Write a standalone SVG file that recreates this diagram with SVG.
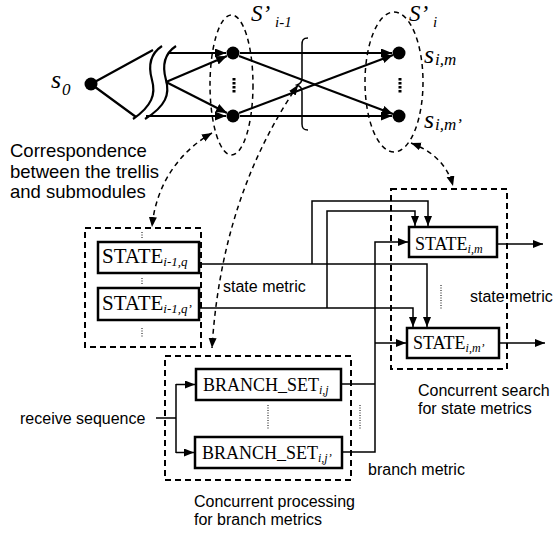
<svg xmlns="http://www.w3.org/2000/svg" width="560" height="535" viewBox="0 0 560 535">
<style>
.ln{fill:none;stroke:#000;stroke-width:1.5}
.tl{fill:none;stroke:#000;stroke-width:2.2}
.ds{fill:none;stroke:#000;stroke-width:1.5;stroke-dasharray:5 4}
.dbox{fill:none;stroke:#000;stroke-width:2;stroke-dasharray:6 4}
.box{fill:#fff;stroke:#000;stroke-width:2.5}
.dot{fill:#000}
.dotv{fill:none;stroke:#000;stroke-width:1;stroke-dasharray:1 1.5}
.dotb{fill:none;stroke:#000;stroke-width:3;stroke-dasharray:2.5 1.5}
.sans{font-family:"Liberation Sans",Arial,sans-serif;font-size:16px;fill:#000}
.big{font-size:18.5px}
.ser{font-family:"Liberation Serif","Times New Roman",serif;fill:#000}
.it{font-style:italic}
</style>
<defs>
<marker id="ah" markerUnits="userSpaceOnUse" markerWidth="12" markerHeight="10" refX="11" refY="4.5" orient="auto-start-reverse">
<path d="M0,0 L11,4.5 L0,9 z" fill="#000"/>
</marker>
<marker id="ahs" markerUnits="userSpaceOnUse" markerWidth="11" markerHeight="9" refX="10" refY="4" orient="auto-start-reverse">
<path d="M0,0 L10,4 L0,8 z" fill="#000"/>
</marker>
</defs>
<rect width="560" height="535" fill="#fff"/>

<!-- Trellis -->
<g id="trellis">
<g id="s0">
<circle class="dot" cx="91" cy="84" r="6.5"/>
<text class="ser it" x="51" y="88" font-size="26">s</text>
<text class="ser it" x="62" y="95" font-size="17">0</text>
</g>
<g id="break">
<path class="tl" d="M91,84 L153,50 M91,84 L136,117"/>
<path class="tl" stroke-width="2.5" d="M162,46 C150,54 148,66 152,80 C156,94 152,106 133,119"/>
<path class="tl" stroke-width="2.5" d="M176,46 C164,54 162,66 166,80 C170,94 166,106 145,119"/>
</g>
<g id="S_i-1">
<ellipse class="ds" cx="231.5" cy="85" rx="21.5" ry="70"/>
<circle class="dot" cx="233" cy="53" r="6.5"/>
<circle class="dot" cx="233" cy="116" r="6.5"/>
<line class="dotb" x1="234" y1="78" x2="234" y2="94"/>
<text class="ser it" x="251" y="21" font-size="23">S’</text>
<text class="ser it" x="275" y="27" font-size="15">i-1</text>
</g>
<g id="S_i">
<ellipse class="ds" cx="394" cy="82" rx="29" ry="70"/>
<circle class="dot" cx="399" cy="53" r="6.5"/>
<circle class="dot" cx="399" cy="116" r="6.5"/>
<line class="dotb" x1="400" y1="78" x2="400" y2="94"/>
<text class="ser it" x="409" y="21" font-size="23">S’</text>
<text class="ser it" x="433" y="27" font-size="15">i</text>
<text class="ser it" x="424" y="63" font-size="26">s</text>
<text class="ser it" x="435" y="65" font-size="17">i,m</text>
<text class="ser it" x="424" y="128" font-size="26">s</text>
<text class="ser it" x="435" y="130" font-size="17">i,m’</text>
</g>
<path id="brace" class="ln" d="M308,38 C303,38 302,40 302,45 L302,78 C302,82 300,84 297,85 C300,86 302,88 302,92 L302,124 C302,128 303,130 308,130"/>
</g>

<!-- Submodule groups -->
<g id="prev-states">
<rect class="dbox" x="85" y="228" width="116" height="119"/>
<line class="dotv" x1="142" y1="232" x2="142" y2="239"/>
<line class="dotv" x1="142" y1="278" x2="142" y2="285"/>
<line class="dotv" x1="142" y1="328" x2="142" y2="338"/>
</g>
<g id="STATE_i-1_q">
<rect class="box" x="98" y="242" width="101" height="31"/>
<text class="ser" x="102" y="263" font-size="21">STATE<tspan class="it" font-size="13" dy="3">i-1,q</tspan></text>
</g>
<g id="STATE_i-1_q2">
<rect class="box" x="98" y="288" width="101" height="32"/>
<text class="ser" x="102" y="310" font-size="21">STATE<tspan class="it" font-size="13" dy="3">i-1,q’</tspan></text>
</g>

<g id="cur-states">
<rect class="dbox" x="391" y="189" width="116" height="180"/>
<line class="dotv" x1="441" y1="285" x2="441" y2="310"/>
</g>
<g id="STATE_i_m">
<rect class="box" x="409" y="227" width="88" height="30"/>
<text class="ser" x="415" y="250" font-size="18">STATE<tspan class="it" font-size="12" dy="3">i,m</tspan></text>
</g>
<g id="STATE_i_m2">
<rect class="box" x="407" y="328" width="92" height="30"/>
<text class="ser" x="413" y="349" font-size="18">STATE<tspan class="it" font-size="12" dy="3">i,m’</tspan></text>
</g>

<g id="branch-sets">
<rect class="dbox" x="165" y="356" width="186" height="124"/>
<line class="dotv" x1="268" y1="405" x2="268" y2="430"/>
</g>
<g id="BRANCH_SET_i_j">
<rect class="box" x="196" y="369" width="145" height="31"/>
<text class="ser" x="203" y="391" font-size="18">BRANCH_SET<tspan class="it" font-size="12" dy="3">i,j</tspan></text>
</g>
<g id="BRANCH_SET_i_j2">
<rect class="box" x="195" y="437" width="147" height="31"/>
<text class="ser" x="202" y="459" font-size="18">BRANCH_SET<tspan class="it" font-size="12" dy="3">i,j’</tspan></text>
</g>

<!-- Connectors -->
<g id="connectors">
<line class="tl" x1="169" y1="53" x2="226" y2="53" marker-end="url(#ah)"/>
<line class="tl" x1="166" y1="82" x2="227" y2="56" marker-end="url(#ah)"/>
<line class="tl" x1="166" y1="82" x2="227" y2="113" marker-end="url(#ah)"/>
<line class="tl" x1="146" y1="116" x2="226" y2="116" marker-end="url(#ah)"/>
<line class="tl" x1="240" y1="53" x2="392" y2="53" marker-end="url(#ah)"/>
<line class="tl" x1="240" y1="116" x2="392" y2="116" marker-end="url(#ah)"/>
<line class="tl" x1="239" y1="56" x2="393" y2="114" marker-end="url(#ah)"/>
<line class="tl" x1="239" y1="113" x2="393" y2="55" marker-end="url(#ah)"/>
<path class="ds" d="M212,133 C182,150 156,182 152,227" marker-start="url(#ahs)" marker-end="url(#ahs)"/>
<path class="ds" d="M298,85 C262,138 220,220 212,348" marker-start="url(#ahs)" marker-end="url(#ahs)"/>
<path class="ds" d="M411,143 C430,150 447,163 453,186" marker-start="url(#ahs)" marker-end="url(#ahs)"/>
<path class="ln" d="M199,264 H427 V327" marker-end="url(#ahs)"/>
<path class="ln" d="M312,264 V201 H428 V226" marker-end="url(#ahs)"/>
<path class="ln" d="M199,308 H413 V327" marker-end="url(#ahs)"/>
<path class="ln" d="M327,308 V211 H415 V226" marker-end="url(#ahs)"/>
<path class="ln" d="M341,384 H375"/>
<path class="ln" d="M342,452 H375 V242 H408" marker-end="url(#ahs)"/>
<path class="ln" d="M375,343 H406" marker-end="url(#ahs)"/>
<line class="dotv" x1="360" y1="405" x2="360" y2="430"/>
<path class="ln" d="M497,244 H543" marker-end="url(#ahs)"/>
<path class="ln" d="M499,343 H545" marker-end="url(#ahs)"/>
<path class="ln" d="M156,418 H176 M176,384 V453"/>
<path class="ln" d="M176,384.5 H195" marker-end="url(#ahs)"/>
<path class="ln" d="M176,452.5 H194" marker-end="url(#ahs)"/>
</g>

<!-- Labels -->
<g id="labels">
<text class="sans big" x="10" y="157">Correspondence</text>
<text class="sans big" x="10" y="178">between the trellis</text>
<text class="sans big" x="10" y="198">and submodules</text>
<text class="sans" x="223" y="292">state metric</text>
<text class="sans" x="470" y="302">state metric</text>
<text class="sans" x="418" y="396">Concurrent search</text>
<text class="sans" x="418" y="414">for state metrics</text>
<text class="sans" x="20" y="424">receive sequence</text>
<text class="sans" x="368" y="475">branch metric</text>
<text class="sans" x="194" y="507">Concurrent processing</text>
<text class="sans" x="194" y="525">for branch metrics</text>
</g>
</svg>
